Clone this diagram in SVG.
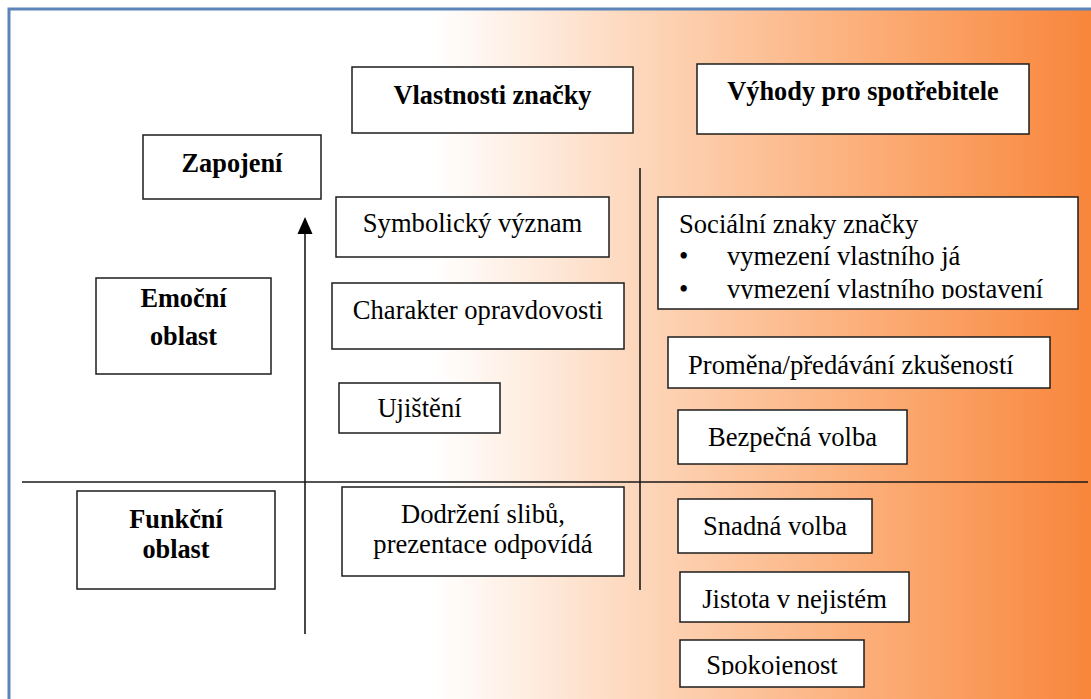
<svg xmlns="http://www.w3.org/2000/svg" width="1091" height="699" viewBox="0 0 1091 699">
  <style>
    .box { fill: #ffffff; stroke: #1c1c1c; stroke-width: 1.5; }
    text { font-family: 'Liberation Serif', 'Times New Roman', serif; fill: #000000; }
    .t { font-size: 26.6px; }
    .b { font-size: 26.3px; font-weight: bold; }
    .c { text-anchor: middle; }
    .ln { stroke: #1a1a1a; stroke-width: 1.6; fill: none; }
  </style>
  <defs>
    <linearGradient id="bgGrad" gradientUnits="userSpaceOnUse" x1="435" y1="0" x2="1091" y2="0">
      <stop offset="0" stop-color="#ffffff"/>
      <stop offset="0.3" stop-color="#fdd8bd"/>
      <stop offset="0.65" stop-color="#fcaf7a"/>
      <stop offset="1" stop-color="#f8863b"/>
    </linearGradient>
    <clipPath id="clipSocial"><rect x="658" y="197" width="420" height="102"/></clipPath>
    <clipPath id="clipPromise"><rect x="342" y="487" width="282" height="80"/></clipPath>
    <clipPath id="clipCalm"><rect x="680" y="640" width="184" height="35"/></clipPath>
  </defs>

  <!-- page background and frame -->
  <rect x="0" y="0" width="1091" height="699" fill="#ffffff"/>
  <rect x="10" y="10" width="1081" height="689" fill="url(#bgGrad)"/>
  <path d="M9 699 V9 H1091" fill="none" stroke="#5b84b8" stroke-width="3"/>

  <!-- axes and dividers -->
  <g id="connectors">
    <line class="ln" x1="22" y1="482" x2="1088" y2="482"/>
    <line class="ln" x1="640" y1="168" x2="640" y2="590"/>
    <line class="ln" x1="305" y1="634" x2="305" y2="230"/>
    <polygon points="305,217 297.5,234 312.5,234" fill="#000000"/>
  </g>

  <g id="zapojeni">
    <rect class="box" x="143" y="135" width="178" height="64"/>
    <text class="b c" x="232" y="172">Zapojení</text>
  </g>
  <g id="vlastnosti">
    <rect class="box" x="352" y="67" width="281" height="66"/>
    <text class="b c" x="492.5" y="104">Vlastnosti značky</text>
  </g>
  <g id="vyhody">
    <rect class="box" x="697" y="64" width="332" height="70"/>
    <text class="b c" x="863" y="100">Výhody pro spotřebitele</text>
  </g>
  <g id="emocni">
    <rect class="box" x="96" y="278" width="175" height="96"/>
    <text class="b c" x="183.5" y="307">Emoční</text>
    <text class="b c" x="183.5" y="345">oblast</text>
  </g>
  <g id="funkcni">
    <rect class="box" x="77" y="491" width="198" height="98"/>
    <text class="b c" x="176" y="528">Funkční</text>
    <text class="b c" x="176" y="558">oblast</text>
  </g>
  <g id="symbolicky">
    <rect class="box" x="336" y="197" width="273" height="60"/>
    <text class="t c" x="472.5" y="232">Symbolický význam</text>
  </g>
  <g id="charakter">
    <rect class="box" x="332" y="283" width="292" height="66"/>
    <text class="t c" x="478" y="319">Charakter opravdovosti</text>
  </g>
  <g id="ujisteni">
    <rect class="box" x="339" y="383" width="161" height="50"/>
    <text class="t c" x="419.5" y="417">Ujištění</text>
  </g>
  <g id="dodrzeni">
    <rect class="box" x="342" y="487" width="282" height="89"/>
    <g clip-path="url(#clipPromise)">
      <text class="t c" x="483" y="523">Dodržení slibů,</text>
      <text class="t c" x="483" y="553">prezentace odpovídá</text>
    </g>
  </g>
  <g id="socialni">
    <rect class="box" x="658" y="197" width="420" height="112"/>
    <g clip-path="url(#clipSocial)">
      <text class="t" x="679" y="233">Sociální znaky značky</text>
      <text class="t" x="679" y="265">•</text>
      <text class="t" x="727" y="265">vymezení vlastního já</text>
      <text class="t" x="679" y="298">•</text>
      <text class="t" x="727" y="298">vymezení vlastního postavení</text>
    </g>
  </g>
  <g id="promena">
    <rect class="box" x="668" y="337" width="382" height="51"/>
    <text class="t" x="688" y="374">Proměna/předávání zkušeností</text>
  </g>
  <g id="bezpecna">
    <rect class="box" x="678" y="410" width="229" height="54"/>
    <text class="t c" x="792.5" y="446">Bezpečná volba</text>
  </g>
  <g id="snadna">
    <rect class="box" x="678" y="499" width="194" height="54"/>
    <text class="t c" x="775" y="535">Snadná volba</text>
  </g>
  <g id="jistota">
    <rect class="box" x="680" y="572" width="229" height="50"/>
    <text class="t c" x="794.5" y="608">Jistota v nejistém</text>
  </g>
  <g id="spokojenost">
    <rect class="box" x="680" y="640" width="184" height="47"/>
    <g clip-path="url(#clipCalm)">
      <text class="t c" x="772" y="674">Spokojenost</text>
    </g>
  </g>
</svg>
